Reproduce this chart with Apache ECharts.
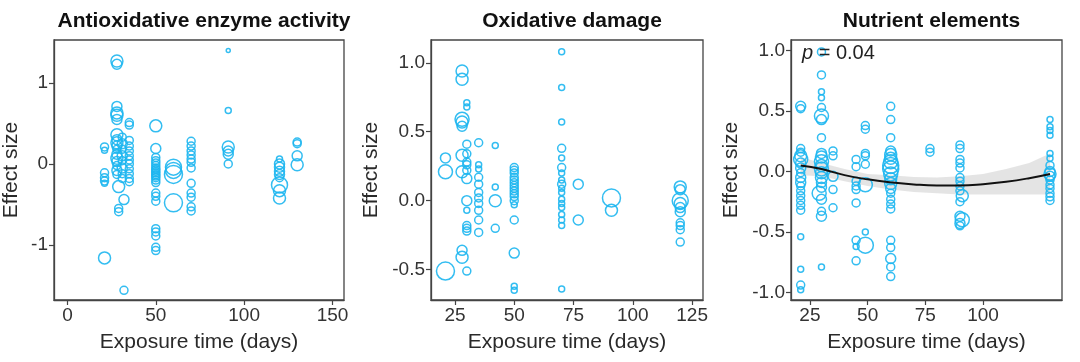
<!DOCTYPE html>
<html>
<head>
<meta charset="utf-8">
<script src="https://cdn.jsdelivr.net/npm/echarts@6/dist/echarts.min.js"></script>
<style>html,body{margin:0;padding:0;background:#fff}#c{width:1080px;height:362px}</style>
</head>
<body>
<div id="c"></div>
<script>
// ---- Panel titles & axis labels ----
const panelTitles = ['Antioxidative enzyme activity', 'Oxidative damage', 'Nutrient elements'];
const xAxisTitle = 'Exposure time (days)';
const yAxisTitle = 'Effect size';
const xTicks1 = [0, 50, 100, 150];
const yTicks1 = [-1, 0, 1];
const xTicks2 = [25, 50, 75, 100, 125];
const yTicks2 = [-0.5, 0, 0.5, 1];
const xTicks3 = [25, 50, 75, 100];
const yTicks3 = [-1, -0.5, 0, 0.5, 1];
const pValueText = '0.04';

// ---- Data: [exposure days, effect size, relative weight] ----
const enzymePoints = [
  [21,0.21,2],[21,0.17,1],[21,-0.11,2],[21,-0.17,2],[21,-0.21,2],[21,-0.24,1],[21,-1.16,4],
  [28,1.27,4],[28,1.23,3],[28,0.71,3],[28,0.63,4],[28,0.6,4],[28,0.55,3],[28,0.36,4],[28,0.3,3],[28,0.26,4],[28,0.22,3],
  [28,0.18,2],[28,0.12,3],[28,0.07,4],[28,0.03,3],[28,-0.02,2],[28,-0.08,3],[28,-0.13,2],[29,-0.28,4],[29,-0.55,2],[29,-0.59,2],
  [31,0.33,2],[31,0.25,3],[31,0.18,2],[31,0.1,3],[31,0.04,2],[31,-0.05,3],[31,-0.12,2],[31,-0.18,2],[32,-0.44,3],[32,-1.56,2],
  [35,0.51,2],[35,0.48,2],[35,0.29,2],[35,0.22,2],[35,0.16,2],[35,0.1,2],[35,0.05,2],[35,0,2],[35,-0.06,2],[35,-0.12,2],[35,-0.18,2],[35,-0.22,2],
  [50,0.47,4],[50,0.19,3],[50,0.08,2],[50,0.04,2],[50,0.01,2],[50,-0.02,2],[50,-0.05,2],[50,-0.07,2],[50,-0.09,2],[50,-0.11,2],[50,-0.13,2],
  [50,-0.15,2],[50,-0.17,2],[50,-0.2,2],[50,-0.23,2],[50,-0.36,2],[50,-0.4,2],[50,-0.46,2],[50,-0.8,2],[50,-0.84,2],[50,-0.89,2],[50,-1.03,2],[50,-1.07,2],
  [60,-0.04,6],[60,-0.08,6],[60,-0.13,7],[60,-0.48,7],
  [70,0.28,2],[70,0.22,2],[70,0.16,2],[70,0.11,2],[70,0.06,2],[70,0.02,2],[70,-0.05,2],[70,-0.24,2],[70,-0.36,2],[70,-0.41,2],[70,-0.53,2],[70,-0.58,2],
  [91,1.4,0],[91,0.66,1],[91,0.21,4],[91,0.16,3],[91,0.12,3],[91,0.0,2],
  [120,0.06,1],[120,0.0,3],[120,-0.04,3],[120,-0.09,3],[120,-0.13,3],[120,-0.17,2],[120,-0.26,6],[120,-0.33,4],[120,-0.42,4],
  [130,0.27,2],[130,0.25,2],[130,0.1,3],[130,-0.01,4]
];
const damagePoints = [
  [21,0.31,3],[21,0.21,5],[21,-0.51,7],
  [28,0.94,4],[28,0.88,4],[28,0.59,5],[28,0.57,4],[28,0.54,3],[28,0.33,4],[28,0.21,4],[28,-0.36,3],[28,-0.41,4],
  [30,0.71,1],[30,0.68,1],[30,0.41,2],[30,0.34,2],[30,0.28,2],[30,0.26,2],[30,0.22,2],[30,0.16,3],[30,0.0,3],[30,-0.07,1],
  [30,-0.18,2],[30,-0.2,2],[30,-0.22,2],[30,-0.51,2],
  [35,0.42,2],[35,0.26,1],[35,0.23,1],[35,0.17,2],[35,0.12,2],[35,0.06,2],[35,0.02,2],[35,-0.02,2],[35,-0.07,2],[35,-0.14,2],[35,-0.23,2],
  [42,0.4,1],[42,0.1,1],[42,0.0,4],[42,-0.2,2],
  [50,0.24,2],[50,0.22,2],[50,0.2,2],[50,0.17,2],[50,0.15,2],[50,0.13,2],[50,0.11,2],[50,0.09,2],[50,0.07,2],[50,0.05,2],[50,0.03,2],
  [50,0.0,2],[50,-0.03,1],[50,-0.14,2],[50,-0.38,3],[50,-0.62,1],[50,-0.65,1],
  [70,1.08,1],[70,0.82,1],[70,0.57,1],[70,0.38,2],[70,0.31,1],[70,0.24,2],[70,0.2,1],[70,0.15,1],[70,0.12,2],[70,0.09,1],[70,0.06,1],
  [70,0.01,1],[70,-0.02,1],[70,-0.05,1],[70,-0.1,1],[70,-0.14,1],[70,-0.18,1],[70,-0.64,1],
  [77,0.12,3],[77,-0.14,3],
  [91,0.02,7],[91,-0.07,4],
  [120,0.1,4],[120,0.08,3],[120,0.0,6],[120,-0.02,4],[120,-0.05,3],[120,-0.08,3],[120,-0.16,2],[120,-0.18,2],[120,-0.21,2],[120,-0.3,2]
];
const nutrientPoints = [
  [21,0.54,3],[21,0.52,2],[21,0.19,2],[21,0.16,2],[21,0.13,4],[21,0.1,5],[21,0.07,3],[21,0.03,3],[21,-0.01,2],[21,-0.05,3],[21,-0.09,3],
  [21,-0.12,2],[21,-0.16,2],[21,-0.2,2],[21,-0.24,2],[21,-0.28,2],[21,-0.32,2],[21,-0.54,1],[21,-0.81,1],[21,-0.94,2],[21,-0.98,1],
  [30,0.99,2],[30,0.8,2],[30,0.66,1],[30,0.61,1],[30,0.53,2],[30,0.46,5],[30,0.43,3],[30,0.28,2],[30,0.15,3],[30,0.12,4],[30,0.08,5],
  [30,0.05,4],[30,0.02,5],[30,-0.01,4],[30,-0.05,4],[30,-0.09,3],[30,-0.13,3],[29,-0.18,5],[30,-0.23,3],[30,-0.33,2],[30,-0.37,3],[30,-0.79,1],
  [35,0.17,2],[35,0.13,2],[35,-0.04,3],[35,-0.15,2],[35,-0.3,2],
  [45,0.1,2],[45,0.04,2],[45,-0.08,2],[45,-0.12,2],[45,-0.15,2],[45,-0.26,2],[45,-0.57,2],[45,-0.62,1],[45,-0.74,2],
  [49,0.38,2],[49,0.35,2],[49,0.15,2],[49,0.13,2],[49,0.06,2],[49,-0.11,5],[49,-0.5,1],[49,-0.61,6],
  [60,0.54,2],[60,0.43,2],[60,0.28,2],[60,0.17,3],[60,0.14,4],[60,0.11,4],[60,0.08,5],[60,0.05,6],[60,0.02,6],[60,-0.02,5],[60,-0.06,4],
  [60,-0.1,4],[60,-0.14,3],[60,-0.18,2],[60,-0.23,2],[60,-0.27,2],[60,-0.31,2],[60,-0.57,2],[60,-0.63,2],[60,-0.72,3],[60,-0.79,2],[60,-0.87,2],
  [77,0.19,2],[77,0.16,2],
  [90,0.22,2],[90,0.19,2],[90,0.1,2],[90,0.07,2],[90,0.03,2],[90,-0.05,2],[90,-0.08,2],[90,-0.12,2],[90,-0.16,2],[91,-0.2,4],[90,-0.25,2],
  [90,-0.37,3],[91,-0.4,5],[90,-0.43,3],[90,-0.45,2],
  [129,0.43,1],[129,0.37,1],[129,0.34,1],[129,0.3,1],[129,0.15,1],[129,0.11,1],[129,0.05,2],[129,0.0,3],[129,-0.02,4],[129,-0.04,3],
  [129,-0.07,2],[129,-0.11,2],[129,-0.14,2],[129,-0.18,2],[129,-0.21,2],[129,-0.24,2]
];
// fitted curve and confidence band
const fitX     = [21, 30, 40, 50, 60, 70, 80, 90, 100, 110, 120, 129];
const fitY     = [0.05, 0.02, -0.03, -0.065, -0.09, -0.107, -0.115, -0.115, -0.105, -0.085, -0.055, -0.02];
const fitLower = [-0.03, -0.04, -0.08, -0.12, -0.15, -0.17, -0.18, -0.19, -0.19, -0.19, -0.19, -0.19];
const fitUpper = [0.12, 0.07, 0.02, -0.02, -0.03, -0.045, -0.05, -0.04, -0.02, 0.02, 0.07, 0.15];

// ---- Chart ----
const FONT = "'Liberation Sans', Arial, Helvetica, sans-serif";
const circleColor = '#1DB6F0';
const grids = [
  {left: 54, top: 40, width: 290, height: 260},
  {left: 431, top: 40, width: 272, height: 260},
  {left: 791, top: 40, width: 271, height: 260}
];
const ranges = [
  {xmin: -7.6, xmax: 156.5, ymin: -1.68, ymax: 1.53, xt: xTicks1, yt: yTicks1, fmt: v => String(v)},
  {xmin: 14.9, xmax: 129.6, ymin: -0.72, ymax: 1.165, xt: xTicks2, yt: yTicks2, fmt: v => v.toFixed(1)},
  {xmin: 16.8, xmax: 134.2, ymin: -1.064, ymax: 1.089, xt: xTicks3, yt: yTicks3, fmt: v => v.toFixed(1)}
];
const axisCol = '#444';
const xAxes = ranges.map((r, i) => ({
  type: 'value', gridIndex: i, min: r.xmin, max: r.xmax,
  axisLine: {show: true, onZero: false, lineStyle: {color: axisCol, width: 1.3}},
  axisTick: {show: true, customValues: r.xt, length: 5, lineStyle: {color: axisCol, width: 1.2}},
  axisLabel: {customValues: r.xt, fontSize: 19, color: '#333', fontFamily: FONT, margin: 6, formatter: v => String(v)},
  splitLine: {show: false},
  name: xAxisTitle, nameLocation: 'middle', nameGap: 32,
  nameTextStyle: {fontSize: 21, color: '#2a2a2a', fontFamily: FONT}
}));
const yAxes = ranges.map((r, i) => ({
  type: 'value', gridIndex: i, min: r.ymin, max: r.ymax,
  axisLine: {show: true, onZero: false, lineStyle: {color: axisCol, width: 1.3}},
  axisTick: {show: true, customValues: r.yt, length: 5, lineStyle: {color: axisCol, width: 1.2}},
  axisLabel: {customValues: r.yt, fontSize: 19, color: '#333', fontFamily: FONT, margin: 6, formatter: r.fmt},
  splitLine: {show: false},
  name: yAxisTitle, nameLocation: 'middle', nameGap: i === 0 ? 32 : 49, nameRotate: 90,
  nameTextStyle: {fontSize: 21, color: '#2a2a2a', fontFamily: FONT}
}));
const sizeOf = v => 4 + 2 * v[2];
const scatter = (data, i) => ({
  type: 'scatter', xAxisIndex: i, yAxisIndex: i, data: data, symbol: 'circle',
  symbolSize: sizeOf, z: 3,
  itemStyle: {color: 'rgba(0,0,0,0)', borderColor: circleColor, borderWidth: 1.5, opacity: 0.9},
  emphasis: {disabled: true}
});
const series = [
  {
    type: 'custom', xAxisIndex: 2, yAxisIndex: 2, z: 2, silent: true,
    data: [[fitX[0], fitY[0]]],
    renderItem: (params, api) => {
      const pts = [];
      fitX.forEach((x, k) => pts.push(api.coord([x, fitUpper[k]])));
      for (let k = fitX.length - 1; k >= 0; k--) pts.push(api.coord([fitX[k], fitLower[k]]));
      return {type: 'polygon', shape: {points: pts}, style: {fill: 'rgba(190,190,190,0.42)'}};
    }
  },
  scatter(enzymePoints, 0),
  scatter(damagePoints, 1),
  scatter(nutrientPoints, 2),
  {
    type: 'line', xAxisIndex: 2, yAxisIndex: 2, smooth: true, symbol: 'none', z: 5,
    data: fitX.map((x, k) => [x, fitY[k]]), lineStyle: {color: '#111', width: 2}, silent: true
  }
];
const titles = panelTitles.map((t, i) => ({
  text: t, left: grids[i].left + grids[i].width / 2, top: 6, textAlign: 'center',
  textStyle: {fontSize: 21, fontWeight: 'bold', color: '#111', fontFamily: FONT}
}));
titles.push({
  text: '{i|p} = ' + pValueText, left: 797, top: 38,
  textStyle: {fontSize: 20, fontWeight: 'normal', color: '#222', fontFamily: FONT,
    rich: {i: {fontStyle: 'italic', fontWeight: 'normal', fontSize: 20, color: '#222', fontFamily: FONT}}}
});
const chart = echarts.init(document.getElementById('c'), null, {renderer: 'canvas'});
chart.setOption({
  backgroundColor: '#fff',
  animation: false,
  title: titles,
  grid: grids.map(g => Object.assign({show: true, borderColor: axisCol, borderWidth: 1.3, backgroundColor: '#fff'}, g)),
  xAxis: xAxes,
  yAxis: yAxes,
  series: series
});
</script>
</body>
</html>
